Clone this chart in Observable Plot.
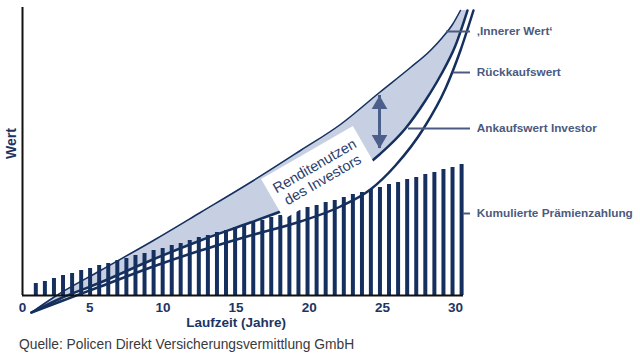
<!DOCTYPE html>
<html><head><meta charset="utf-8">
<script src="https://cdn.jsdelivr.net/npm/d3@7"></script>
<script src="https://cdn.jsdelivr.net/npm/@observablehq/plot@0.6"></script>
<style>
body{margin:0;background:#fff;font-family:"Liberation Sans",Arial,sans-serif;}
#chart svg{display:block}
#caption{padding-left:19px;height:30px;line-height:30px;font-size:13.8px;color:#3a3a3a;font-family:"Liberation Sans",Arial,sans-serif;}
</style></head><body>
<div id="chart"></div>
<div id="caption">Quelle: Policen Direkt Versicherungsvermittlung GmbH</div>
<script>
// Kumulierte Prämienzahlung (bars)
const paymentYears = [1.31,1.93,2.55,3.17,3.79,4.41,5.02,5.64,6.26,6.88,7.50,8.12,8.74,9.36,9.98,10.60,11.21,11.83,12.45,13.07,13.69,14.31,14.93,15.55,16.17,16.79,17.40,18.02,18.64,19.26,19.88,20.50,21.12,21.74,22.36,22.98,23.60,24.21,24.83,25.45,26.07,26.69,27.31,27.93,28.55,29.17,29.79,30.41];
const paymentValues = [12,14,17,20,22,25,27,30,32,35,37,40,42,45,47,50,52,55,58,60,63,65,68,70,73,75,78,80,83,85,88,90,93,95,98,101,103,106,108,111,113,116,118,121,123,126,128,131];

// 'Innerer Wert'
const innerYears  = [1.01,2.52,5.73,9.35,12.56,16.19,19.40,22.13,24.80,26.92,28.28,29.10,29.79,30.33];
const innerValues = [-17,-2,25,55,83,115,145,171,203,228,245,258,271,285];
// Ankaufswert Investor
const purchaseYears  = [1.01,2.99,5.73,9.15,12.56,15.98,19.40,22.13,24.80,26.57,27.94,28.97,29.99,30.81];
const purchaseValues = [-17,-3,13,35,55,73,92,112,141,167,195,220,250,285];
// Rückkaufswert
const surrenderYears  = [1.01,2.99,5.73,9.15,12.56,15.98,19.40,22.13,24.18,25.89,27.81,29.31,30.33,31.22];
const surrenderValues = [-17,-6,9,28,45,60,74,89,106,130,167,207,245,285];

const xTicks = [0,5,10,15,20,25,30];
const xTitle = "Laufzeit (Jahre)";
const yTitle = "Wert";
const seriesLabels = ["\u201AInnerer Wert\u2018","Rückkaufswert","Ankaufswert Investor","Kumulierte Prämienzahlung"];
const labelValues = [264,223,167,82];
const leaderStartYears = [29.38,29.84,26.78,30.52];
const leaderEndYear = 31.02;
const labelYear = 31.45;
const boxText = "Renditenutzen\ndes Investors";
const boxYear = 20.63, boxValue = 123;
const arrowYear = 24.8, arrowTop = 200, arrowBottom = 147;
const xDomain = [0.4, 30.54];
const yDomain = [0, 288];

const navy = "#15305f";
const labelColor = "#4b5a80";
const fillColor = "#c6d0e2";
const arrowColor = "#4c5e8a";
const titleColor = "#1d3462";
const font = "Liberation Sans, Arial, sans-serif";

const idx = d3.range(innerYears.length);
const bars = paymentYears.map((x,i)=>({x, y: paymentValues[i]}));
const inner = innerYears.map((x,i)=>({x, y: innerValues[i]}));
const purchase = purchaseYears.map((x,i)=>({x, y: purchaseValues[i]}));
const surrender = surrenderYears.map((x,i)=>({x, y: surrenderValues[i]}));
const labelIdx = d3.range(seriesLabels.length);

const boxSymbol = {draw(ctx){ ctx.rect(-53,-23,106,46); }};

const chart = Plot.plot({
  width: 640, height: 330,
  marginLeft: 22, marginRight: 177, marginTop: 7, marginBottom: 35,
  x: {domain: xDomain, axis: null},
  y: {domain: yDomain, axis: null},
  style: {fontFamily: font, background: "#fff"},
  marks: [
    Plot.area(idx, {x1: i=>purchaseYears[i], y1: i=>purchaseValues[i], x2: i=>innerYears[i], y2: i=>innerValues[i], curve: "monotone-x", fill: fillColor}),
    Plot.ruleX(bars, {x: "x", y1: 0, y2: "y", stroke: navy, strokeWidth: 4}),
    Plot.line(inner, {x: "x", y: "y", curve: "monotone-x", stroke: navy, strokeWidth: 1.5}),
    Plot.line(purchase, {x: "x", y: "y", curve: "monotone-x", stroke: navy, strokeWidth: 2.5}),
    Plot.line(surrender, {x: "x", y: "y", curve: "monotone-x", stroke: navy, strokeWidth: 2.5}),
    Plot.ruleX([xDomain[0]], {y1: 0, y2: yDomain[1], stroke: "#111", strokeWidth: 2}),
    Plot.ruleY([0], {x1: xDomain[0], x2: xDomain[1], stroke: "#111", strokeWidth: 2}),
    Plot.dot([{x: boxYear, y: boxValue}], {x: "x", y: "y", symbol: boxSymbol, r: 10, fill: "#fff", stroke: null, rotate: -30}),
    Plot.text([boxText], {x: boxYear, y: boxValue, rotate: -30, fontSize: 14.5, fill: "#2a3d6b", lineHeight: 1.1}),
    Plot.ruleX([arrowYear], {y1: arrowTop, y2: arrowBottom, stroke: arrowColor, strokeWidth: 3}),
    Plot.dot([arrowTop], {x: arrowYear, y: d=>d, symbol: "triangle", r: 5.8, fill: arrowColor, stroke: null, dy: 9}),
    Plot.dot([arrowBottom], {x: arrowYear, y: d=>d, symbol: "triangle", r: 5.8, fill: arrowColor, stroke: null, dy: -9, rotate: 180}),
    Plot.ruleY(labelIdx, {y: i=>labelValues[i], x1: i=>leaderStartYears[i], x2: leaderEndYear, stroke: labelColor, strokeWidth: 2}),
    Plot.text(labelIdx, {x: labelYear, y: i=>labelValues[i], text: i=>seriesLabels[i], textAnchor: "start", fontSize: 11.8, fontWeight: "bold", fill: labelColor}),
    Plot.text(xTicks, {x: d=>Math.max(d, xDomain[0]), text: d=>String(d), frameAnchor: "bottom", lineAnchor: "middle", textAnchor: "middle", dy: 12, fontSize: 13.5, fontWeight: "bold", fill: titleColor}),
    Plot.text([xTitle], {x: 15, frameAnchor: "bottom", lineAnchor: "middle", textAnchor: "middle", dy: 27, fontSize: 13.5, fontWeight: "bold", fill: titleColor}),
    Plot.text([yTitle], {frameAnchor: "left", textAnchor: "middle", lineAnchor: "middle", dx: -11, dy: -8, rotate: -90, fontSize: 14, fontWeight: "bold", fill: titleColor})
  ]
});
document.getElementById("chart").appendChild(chart);
</script>
</body></html>
